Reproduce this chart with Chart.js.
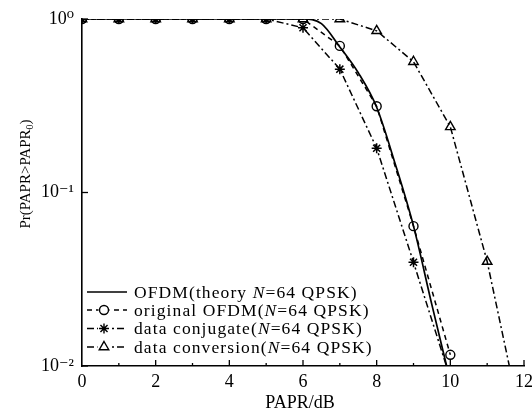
<!DOCTYPE html>
<html><head><meta charset="utf-8">
<script src="https://cdn.jsdelivr.net/npm/chart.js@4/dist/chart.umd.min.js"></script>
<style>html,body{margin:0;padding:0;background:#fff;}#wrap{width:532px;height:412px;position:relative;}</style>
</head><body><div id="wrap"><canvas id="c" width="532" height="412"></canvas></div>
<script>
// ---- data ----
const theoryX = [0,1,2,3,4,5,6,6.5,7,7.5,8,8.5,9,9.5,9.9];
const theoryY = [1,1,1,1,1,1,1,0.94,0.69,0.49,0.31,0.147,0.064,0.0225,0.01];
const originalX = [0,1,2,3,4,5,6,7,8,9,10];
const originalY = [1,1,1,1,1,1,1,0.70,0.314,0.064,0.0116];
const conjugateX = [0,1,2,3,4,5,6,7,8,9,10];
const conjugateY = [1,1,1,1,1,1,0.89,0.514,0.18,0.0396,0.0085];
const conversionX = [0,1,2,3,4,5,6,7,8,9,10,11,12];
const conversionY = [1,1,1,1,1,1,1,1,0.855,0.567,0.239,0.04,0.004];
const seriesNames = ['OFDM(theory N=64 QPSK)','original OFDM(N=64 QPSK)','data conjugate(N=64 QPSK)','data conversion(N=64 QPSK)'];
const xTicks = [0,2,4,6,8,10,12];
const yTicks = [0.01,0.1,1];
const yTickLabels = ['10\u207B\u00B2','10\u207B\u00B9','10\u2070'];
const xTitle = 'PAPR/dB';
const yTitleMain = 'Pr(PAPR>PAPR';
const yTitleSub = '0';
const yTitleEnd = ')';

const FONT = "'Liberation Serif', 'DejaVu Serif', serif";
const INK = '#000';

function pts(xs, ys){ return xs.map((x,i)=>({x:x, y:ys[i]})); }

const dashOrig = [5,4];
const dashDot = [7,3,2,3];

const datasets = [
  {label:seriesNames[0], data:pts(theoryX,theoryY), borderColor:INK, borderWidth:1.7, pointRadius:0, cubicInterpolationMode:'monotone', borderDash:[]},
  {label:seriesNames[1], data:pts(originalX,originalY), borderColor:INK, borderWidth:1.5, borderDash:dashOrig, pointStyle:'circle', pointRadius:4.5, pointBorderWidth:1.4, pointBorderColor:INK, pointBackgroundColor:'rgba(0,0,0,0)'},
  {label:seriesNames[2], data:pts(conjugateX,conjugateY), borderColor:INK, borderWidth:1.5, borderDash:dashDot, pointStyle:'star', pointRadius:5, pointBorderWidth:1.5, pointBorderColor:INK, pointBackgroundColor:'rgba(0,0,0,0)'},
  {label:seriesNames[3], data:pts(conversionX,conversionY), borderColor:INK, borderWidth:1.5, borderDash:dashDot, pointStyle:'triangle', pointRadius:5.5, pointBorderWidth:1.4, pointBorderColor:INK, pointBackgroundColor:'rgba(0,0,0,0)'}
];

function drawMarker(ctx, style, r, x, y){
  ctx.save();
  ctx.strokeStyle = INK; ctx.fillStyle = 'rgba(0,0,0,0)'; ctx.lineWidth = 1.4; ctx.setLineDash([]);
  if (Chart.helpers && Chart.helpers.drawPoint) {
    Chart.helpers.drawPoint(ctx, {pointStyle:style, radius:r, borderWidth:1.4, rotation:0}, x, y);
  } else {
    ctx.beginPath(); ctx.arc(x,y,r,0,Math.PI*2); ctx.stroke();
  }
  ctx.restore();
}

const decor = {
  id:'decor',
  afterDraw(chart){
    const ctx = chart.ctx, xs = chart.scales.x, ys = chart.scales.y, ca = chart.chartArea;
    ctx.save();
    ctx.strokeStyle = INK; ctx.lineWidth = 1.3; ctx.setLineDash([]);
    // inward x ticks
    for (let v = 1; v <= 12; v++) {
      const px = xs.getPixelForValue(v);
      const len = (v % 2 === 0) ? 6 : 3;
      ctx.beginPath(); ctx.moveTo(px, ca.bottom); ctx.lineTo(px, ca.bottom - len); ctx.stroke();
    }
    // inward y ticks
    yTicks.forEach(v => {
      const py = ys.getPixelForValue(v);
      ctx.beginPath(); ctx.moveTo(ca.left, py); ctx.lineTo(ca.left + 6, py); ctx.stroke();
    });
    // x title
    ctx.fillStyle = INK;
    ctx.font = '18px ' + FONT;
    ctx.textAlign = 'center'; ctx.textBaseline = 'middle';
    ctx.fillText(xTitle, 300, 403);
    // y title rotated
    ctx.save();
    ctx.translate(25, 174);
    ctx.rotate(-Math.PI/2);
    ctx.font = '15px ' + FONT;
    const w1 = ctx.measureText(yTitleMain).width;
    ctx.font = '10px ' + FONT;
    const w2 = ctx.measureText(yTitleSub).width;
    ctx.font = '15px ' + FONT;
    const w3 = ctx.measureText(yTitleEnd).width;
    let sx = -(w1 + w2 + w3)/2;
    ctx.textAlign = 'left'; ctx.textBaseline = 'alphabetic';
    ctx.fillText(yTitleMain, sx, 5); sx += w1;
    ctx.font = '10px ' + FONT;
    ctx.fillText(yTitleSub, sx, 8); sx += w2;
    ctx.font = '15px ' + FONT;
    ctx.fillText(yTitleEnd, sx, 5);
    ctx.restore();
    // legend
    const rows = [292, 310, 328.5, 347];
    const x0 = 87, x1 = 127, tx = 134;
    chart.data.datasets.forEach((ds, i) => {
      const y = rows[i];
      ctx.save();
      ctx.strokeStyle = INK; ctx.lineWidth = ds.borderWidth;
      ctx.setLineDash(ds.borderDash || []);
      ctx.beginPath(); ctx.moveTo(x0, y); ctx.lineTo(x1, y); ctx.stroke();
      ctx.restore();
      if (ds.pointRadius > 0) {
        ctx.save(); ctx.fillStyle = '#fff';
        ctx.fillRect(104 - ds.pointRadius - 1, y - ds.pointRadius - 1, ds.pointRadius*2 + 2, ds.pointRadius*2 + 2);
        ctx.restore();
        drawMarker(ctx, ds.pointStyle, ds.pointRadius, 104, y);
      }
      // text with italic N
      const parts = ds.label.split(/(N)(?==)/);
      let cx = tx;
      ctx.save();
      ctx.fillStyle = INK; ctx.textAlign = 'left'; ctx.textBaseline = 'middle';
      try { ctx.letterSpacing = '1.1px'; } catch(e) {}
      parts.forEach(p => {
        ctx.font = (p === 'N' ? 'italic ' : '') + '17.5px ' + FONT;
        ctx.fillText(p, cx, y + 1);
        cx += ctx.measureText(p).width;
      });
      ctx.restore();
    });
    ctx.restore();
  }
};

new Chart(document.getElementById('c'), {
  type:'line',
  data:{datasets:datasets},
  options:{
    responsive:false, animation:false, devicePixelRatio:1,
    layout:{padding:{top:19, right:8, left:0, bottom:0}},
    plugins:{legend:{display:false}, tooltip:{enabled:false}},
    elements:{line:{tension:0}},
    scales:{
      x:{type:'linear', min:0, max:12,
        afterBuildTicks(s){ s.ticks = xTicks.map(v => ({value:v})); },
        ticks:{font:{family:FONT, size:18}, color:INK, padding:0, maxRotation:0, autoSkip:false},
        grid:{display:true, drawOnChartArea:false, drawTicks:true, tickLength:5, tickColor:'rgba(0,0,0,0)'},
        border:{display:true, color:INK, width:1.6},
        afterFit(s){ s.height = 46; s.paddingRight = 8; }
      },
      y:{type:'logarithmic', min:0.01, max:1,
        afterBuildTicks(s){ s.ticks = yTicks.map(v => ({value:v})); },
        ticks:{font:{family:FONT, size:18}, color:INK, padding:8,
          callback(v){ const i = yTicks.findIndex(t => Math.abs(Math.log10(t) - Math.log10(v)) < 1e-6); return i >= 0 ? yTickLabels[i] : ''; }},
        grid:{display:false, drawTicks:false},
        border:{display:true, color:INK, width:1.6},
        afterFit(s){ s.width = 82; }
      }
    }
  },
  plugins:[decor]
});
</script></body></html>
